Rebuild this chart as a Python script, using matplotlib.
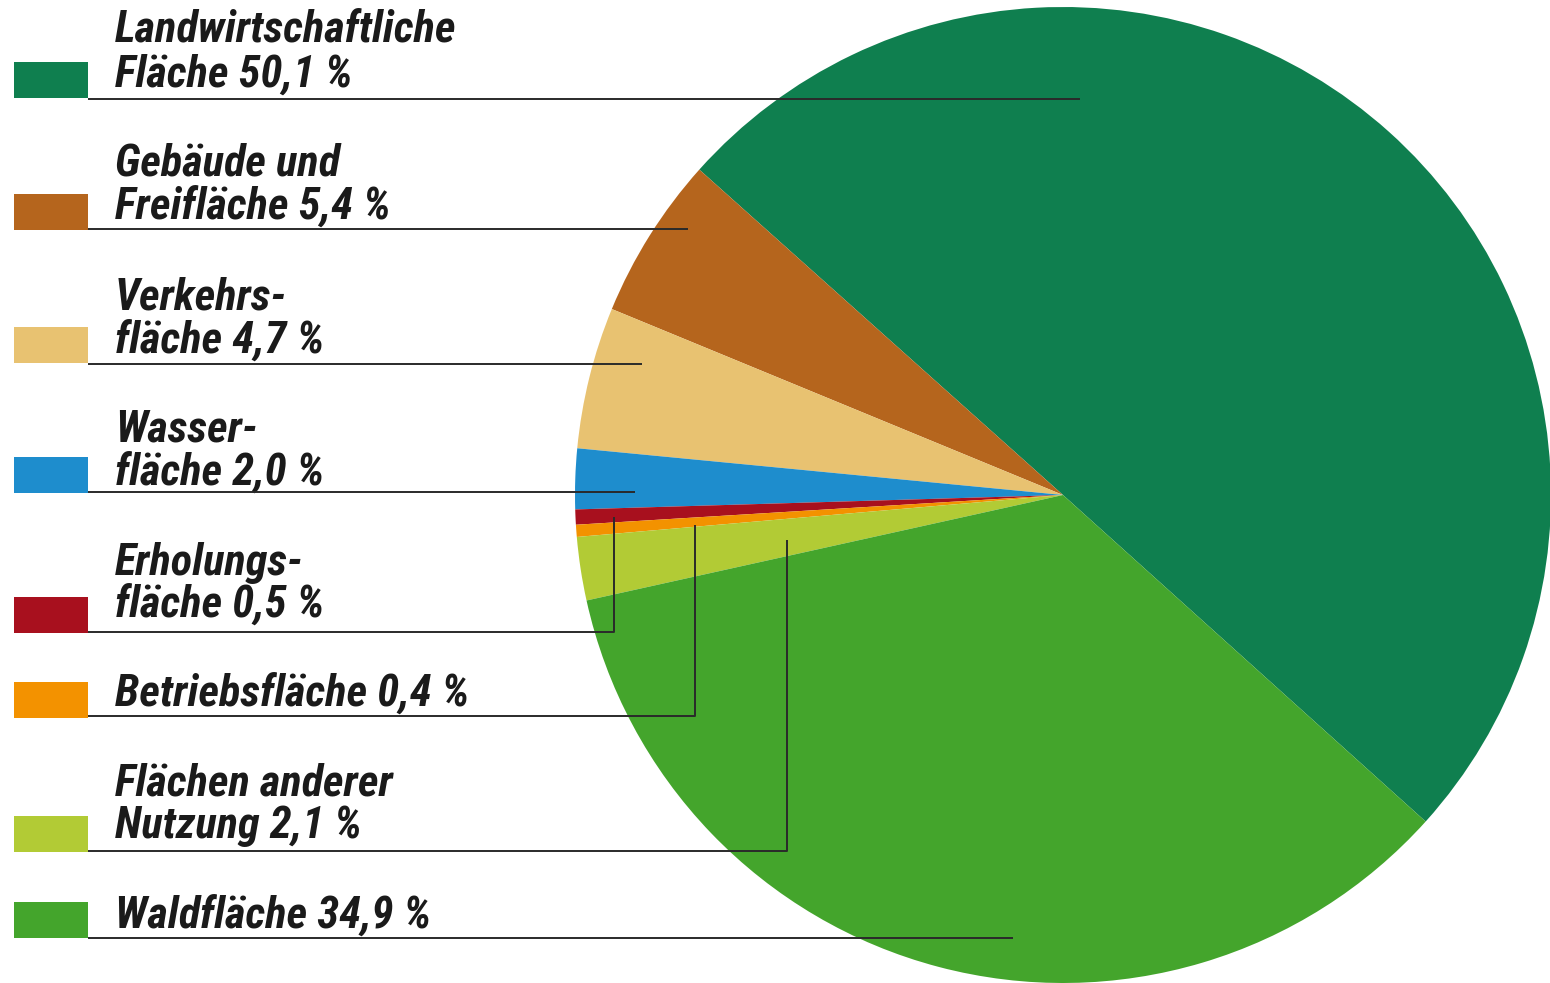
import matplotlib
matplotlib.use("Agg")
import matplotlib.pyplot as plt
from matplotlib.patches import Rectangle

labels_line1 = ["Landwirtschaftliche", "Gebäude und", "Verkehrs-", "Wasser-",
                "Erholungs-", "", "Flächen anderer", ""]
labels_line2 = ["Fläche 50,1 %", "Freifläche 5,4 %", "fläche 4,7 %", "fläche 2,0 %",
                "fläche 0,5 %", "Betriebsfläche 0,4 %", "Nutzung 2,1 %", "Waldfläche 34,9 %"]
values = [50.1, 5.4, 4.7, 2.0, 0.5, 0.4, 2.1, 34.9]
colors = ["#0f7f4f", "#b5651d", "#e8c271", "#1e8dcd", "#a8101e", "#f39200", "#b2cb35", "#44a52c"]

W, H = 1550, 983
fig = plt.figure(figsize=(W / 100, H / 100), dpi=100)
ax = fig.add_axes([0, 0, 1, 1])

def Y(py):
    return H - py

cx, cy, r = 1063, 495, 488
ax.pie(values, colors=colors, startangle=-42, counterclock=True,
       center=(cx, Y(cy)), radius=r, wedgeprops=dict(linewidth=0), frame=True)
ax.set_xlim(0, W)
ax.set_ylim(0, H)
ax.axis("off")

font = dict(family=["Roboto Condensed", "Liberation Sans Narrow", "DejaVu Sans"],
            fontstretch="condensed", weight="black",
            style="italic", fontsize=32, color="#1a1a1a")

rect_tops = [62, 194, 327, 457, 597, 682, 816, 902]
base1 = [42, 176, 309, 441, 575, None, 795, None]
base2 = [87, 219, 353, 485, 617, 706, 838, 928]
leaders = [
    [(88, 99), (1080, 99)],
    [(88, 229), (688, 229)],
    [(88, 364), (642, 364)],
    [(88, 492), (635, 492)],
    [(88, 632), (614, 632), (614, 517)],
    [(88, 716), (695, 716), (695, 525)],
    [(88, 851), (787, 851), (787, 540)],
    [(88, 938), (1013, 938)],
]

for i in range(len(values)):
    ax.add_patch(Rectangle((14, Y(rect_tops[i] + 36)), 74, 36,
                           facecolor=colors[i], edgecolor="none", zorder=3))
    xs = [p[0] for p in leaders[i]]
    ys = [Y(p[1]) for p in leaders[i]]
    ax.plot(xs, ys, color="#2a2a2a", lw=1.4, zorder=4, solid_capstyle="butt")
    if labels_line1[i]:
        ax.text(115, Y(base1[i]), labels_line1[i], va="baseline", ha="left", **font)
    ax.text(115, Y(base2[i]), labels_line2[i], va="baseline", ha="left", **font)

fig.savefig("out.png", dpi=100)
